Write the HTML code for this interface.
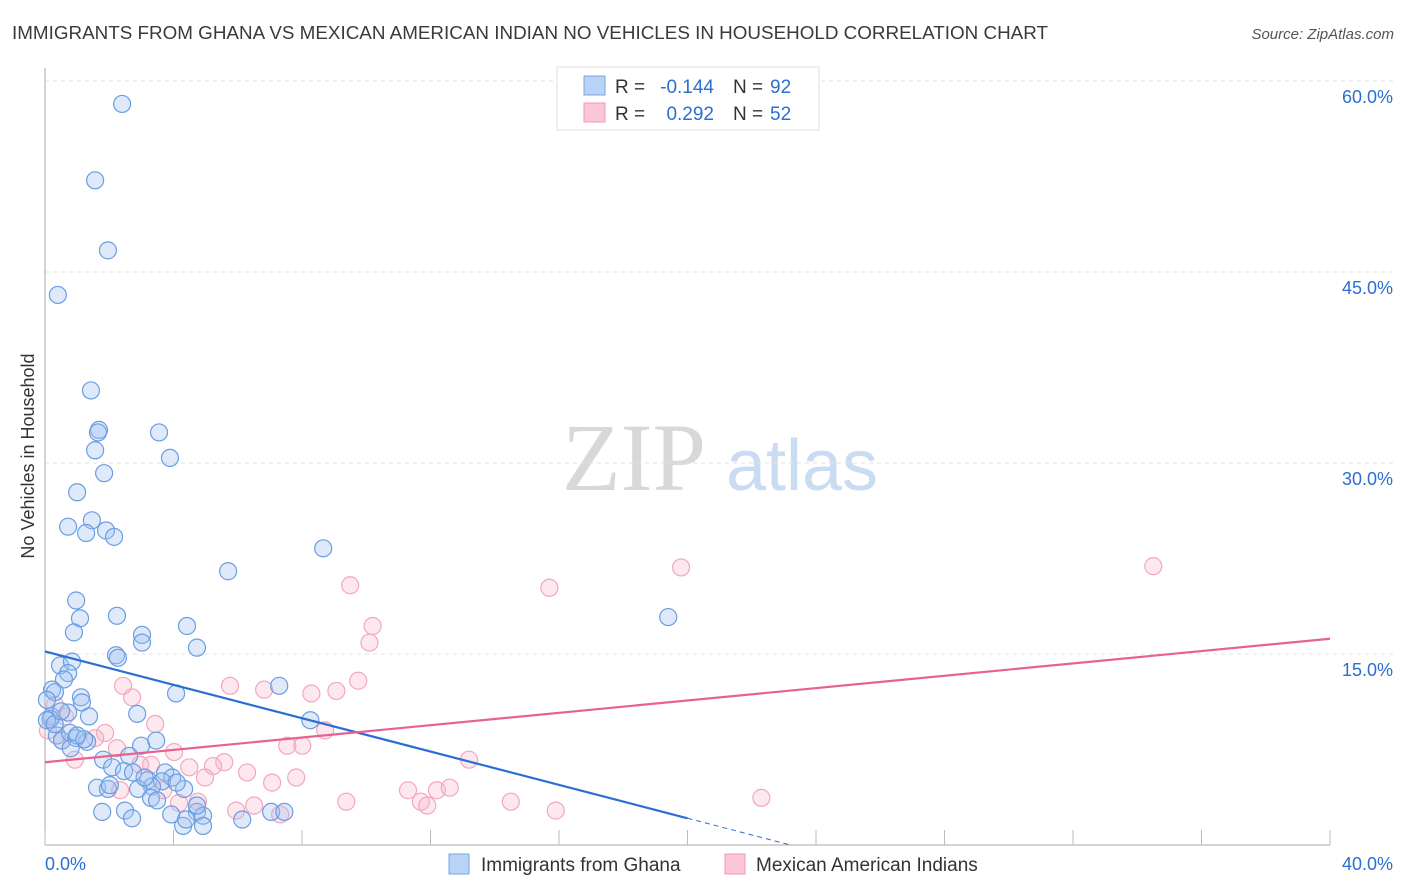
<!DOCTYPE html>
<html><head><meta charset="utf-8"><style>
body{margin:0;background:#fff;font-family:"Liberation Sans",sans-serif;}
svg{display:block}
</style></head><body>
<svg id="chart" width="1406" height="892" xmlns="http://www.w3.org/2000/svg">
<text x="12" y="39" font-size="18" fill="#3a3a3a" textLength="1036" lengthAdjust="spacingAndGlyphs">IMMIGRANTS FROM GHANA VS MEXICAN AMERICAN INDIAN NO VEHICLES IN HOUSEHOLD CORRELATION CHART</text>
<text x="1394" y="39" font-size="15" fill="#555" font-style="italic" text-anchor="end">Source: ZipAtlas.com</text>
<g>
<text x="634" y="490" font-size="96" font-family="Liberation Serif, serif" fill="#d8d8d8" text-anchor="middle">ZIP</text>
<text x="802" y="490" font-size="72" fill="#c9dcf2" text-anchor="middle">atlas</text>
</g>
<g id="grid"></g>
<g id="axes"></g>
<g id="marks"></g>
<g>
<rect x="557" y="67" width="262" height="63" fill="#fff" stroke="#ddd"/>
<rect x="584" y="76" width="21" height="19" fill="#b8d3f5" stroke="#7aa7e0"/>
<rect x="584" y="103" width="21" height="19" fill="#fbc6d5" stroke="#f09ab3"/>
<text x="615" y="93" font-size="19" fill="#333">R =</text>
<text x="714" y="93" font-size="19" fill="#2a6fd1" text-anchor="end">-0.144</text>
<text x="733" y="93" font-size="19" fill="#333">N =</text>
<text x="770" y="93" font-size="19" fill="#2a6fd1">92</text>
<text x="615" y="120" font-size="19" fill="#333">R =</text>
<text x="714" y="120" font-size="19" fill="#2a6fd1" text-anchor="end">0.292</text>
<text x="733" y="120" font-size="19" fill="#333">N =</text>
<text x="770" y="120" font-size="19" fill="#2a6fd1">52</text>
</g>
<text x="34" y="456" font-size="18" fill="#333" text-anchor="middle" transform="rotate(-90 34 456)">No Vehicles in Household</text>
<text x="45" y="870" font-size="18" fill="#2a6fd1">0.0%</text>
<text x="1393" y="870" font-size="18" fill="#2a6fd1" text-anchor="end">40.0%</text>
<g>
<rect x="449" y="854" width="20" height="20" fill="#b8d3f5" stroke="#7aa7e0"/>
<text x="481" y="871" font-size="19" fill="#333">Immigrants from Ghana</text>
<rect x="725" y="854" width="20" height="20" fill="#fbc6d5" stroke="#f09ab3"/>
<text x="756" y="871" font-size="19" fill="#333">Mexican American Indians</text>
</g>
</svg>
<script>
const yTicks=[15,30,45,60];
const yTickLabels=["15.0%","30.0%","45.0%","60.0%"];
const xTicks=[0,4,8,12,16,20,24,28,32,36,40];
const ghanaX=[2.4,1.56,1.96,0.40,1.43,1.68,1.65,3.55,1.56,3.89,1.84,1.0,1.46,0.72,1.90,1.28,2.15,8.66,5.70,0.97,2.24,1.09,19.4,4.42,0.90,3.02,3.02,4.73,2.21,2.27,0.47,0.84,0.72,0.59,0.22,0.31,7.29,4.08,1.12,1.15,2.87,8.26,0.2,0.17,0.72,1.37,0.37,0.53,0.78,0.97,1.31,1.22,3.46,2.99,2.62,1.81,2.09,2.46,2.74,3.74,3.96,3.21,3.64,3.33,2.90,1.62,1.96,4.33,2.02,3.30,3.49,1.78,2.49,2.71,3.93,4.73,4.92,4.30,4.92,6.14,7.04,7.45,4.73,4.39,0.06,0.06,0.3,0.5,1.0,0.8,3.1,4.1];
const ghanaY=[58.2,52.2,46.7,43.2,35.7,32.6,32.4,32.4,31.0,30.4,29.2,27.7,25.5,25.0,24.7,24.5,24.2,23.3,21.5,19.2,18.0,17.8,17.9,17.2,16.7,16.5,15.9,15.5,14.9,14.7,14.1,14.4,13.5,13.0,12.2,12.0,12.5,11.9,11.6,11.2,10.3,9.8,10.1,9.9,10.4,10.1,8.6,8.2,8.8,8.4,8.1,8.3,8.2,7.8,7.0,6.7,6.1,5.8,5.7,5.7,5.3,5.1,5.0,4.6,4.4,4.5,4.4,4.4,4.7,3.7,3.5,2.6,2.7,2.1,2.4,2.6,2.3,1.5,1.5,2.0,2.6,2.6,3.1,2.0,11.4,9.8,9.5,10.5,8.6,7.6,5.3,4.9];
const mexX=[2.43,2.71,3.43,4.02,4.49,3.30,5.76,6.82,8.29,9.07,9.50,9.75,10.2,10.1,15.7,19.8,34.5,13.2,8.72,7.54,8.01,7.82,6.29,5.58,5.23,4.98,3.68,2.96,2.24,1.87,1.56,0.53,0.62,0.31,0.09,0.93,7.07,9.38,11.3,11.7,11.9,12.2,12.6,14.5,15.9,22.3,4.76,5.95,6.51,7.32,4.17,2.34];
const mexY=[12.5,11.6,9.5,7.3,6.1,6.3,12.5,12.2,11.9,12.1,20.4,12.9,17.2,15.9,20.2,21.8,21.9,6.7,9.0,7.8,7.8,5.3,5.7,6.5,6.2,5.3,4.3,6.3,7.6,8.8,8.4,8.2,10.1,11.0,9.0,6.7,4.9,3.4,4.3,3.4,3.1,4.3,4.5,3.4,2.7,3.7,3.4,2.7,3.1,2.4,3.3,4.3];
const ghanaTrend=[15.2,-0.655];
const mexTrend=[6.5,0.2425];
const X0=45,X1=1330,Y0=845,Ytop=81;
const sx=v=>X0+v/40*(X1-X0);
const sy=v=>Y0-v/60*(Y0-Ytop);
const NS="http://www.w3.org/2000/svg";
function mk(parent,tag,attrs){const e=document.createElementNS(NS,tag);for(const k in attrs)e.setAttribute(k,attrs[k]);document.getElementById(parent).appendChild(e);return e;}
yTicks.forEach((t,i)=>{
 const g=mk('grid','line',{x1:45,x2:1395,y1:sy(t),y2:sy(t),stroke:'#e2e2e2','stroke-dasharray':'4,4'});
 
 
 const l=mk('grid','text',{x:1393,y:sy(t)+22,'font-size':18,fill:'#2a6fd1','text-anchor':'end'});
 l.textContent=yTickLabels[i];
 
 
});
const ya=mk('axes','line',{x1:45,x2:45,y1:68,y2:845,stroke:'#aaa'});


const xa=mk('axes','line',{x1:45,x2:1330,y1:845,y2:845,stroke:'#aaa'});


xTicks.forEach(t=>{
 const k=mk('axes','line',{x1:sx(t),x2:sx(t),y1:830,y2:845,stroke:'#bbb'});
 
 
});
mexX.forEach((x,i)=>{
 const c=mk('marks','circle',{cx:sx(x),cy:sy(mexY[i]),r:8.5,fill:'rgba(248,180,200,0.3)',stroke:'#f3a7bf','stroke-width':1.2});
 
 
});
ghanaX.forEach((x,i)=>{
 const c=mk('marks','circle',{cx:sx(x),cy:sy(ghanaY[i]),r:8.5,fill:'rgba(160,196,240,0.35)',stroke:'#6b9de2','stroke-width':1.2});
 
 
});
const gEnd=20, gZero=-ghanaTrend[0]/ghanaTrend[1];
const gl=mk('marks','line',{x1:sx(0),y1:sy(ghanaTrend[0]),x2:sx(gEnd),y2:sy(ghanaTrend[0]+ghanaTrend[1]*gEnd),stroke:'#2a6fd1','stroke-width':2.2});


const gd=mk('marks','line',{x1:sx(gEnd),y1:sy(ghanaTrend[0]+ghanaTrend[1]*gEnd),x2:sx(gZero),y2:sy(0),stroke:'#2a6fd1','stroke-width':1,'stroke-dasharray':'5,4'});


const ml=mk('marks','line',{x1:sx(0),y1:sy(mexTrend[0]),x2:sx(40),y2:sy(mexTrend[0]+mexTrend[1]*40),stroke:'#e8628f','stroke-width':2.2});


</script>
</body></html>
